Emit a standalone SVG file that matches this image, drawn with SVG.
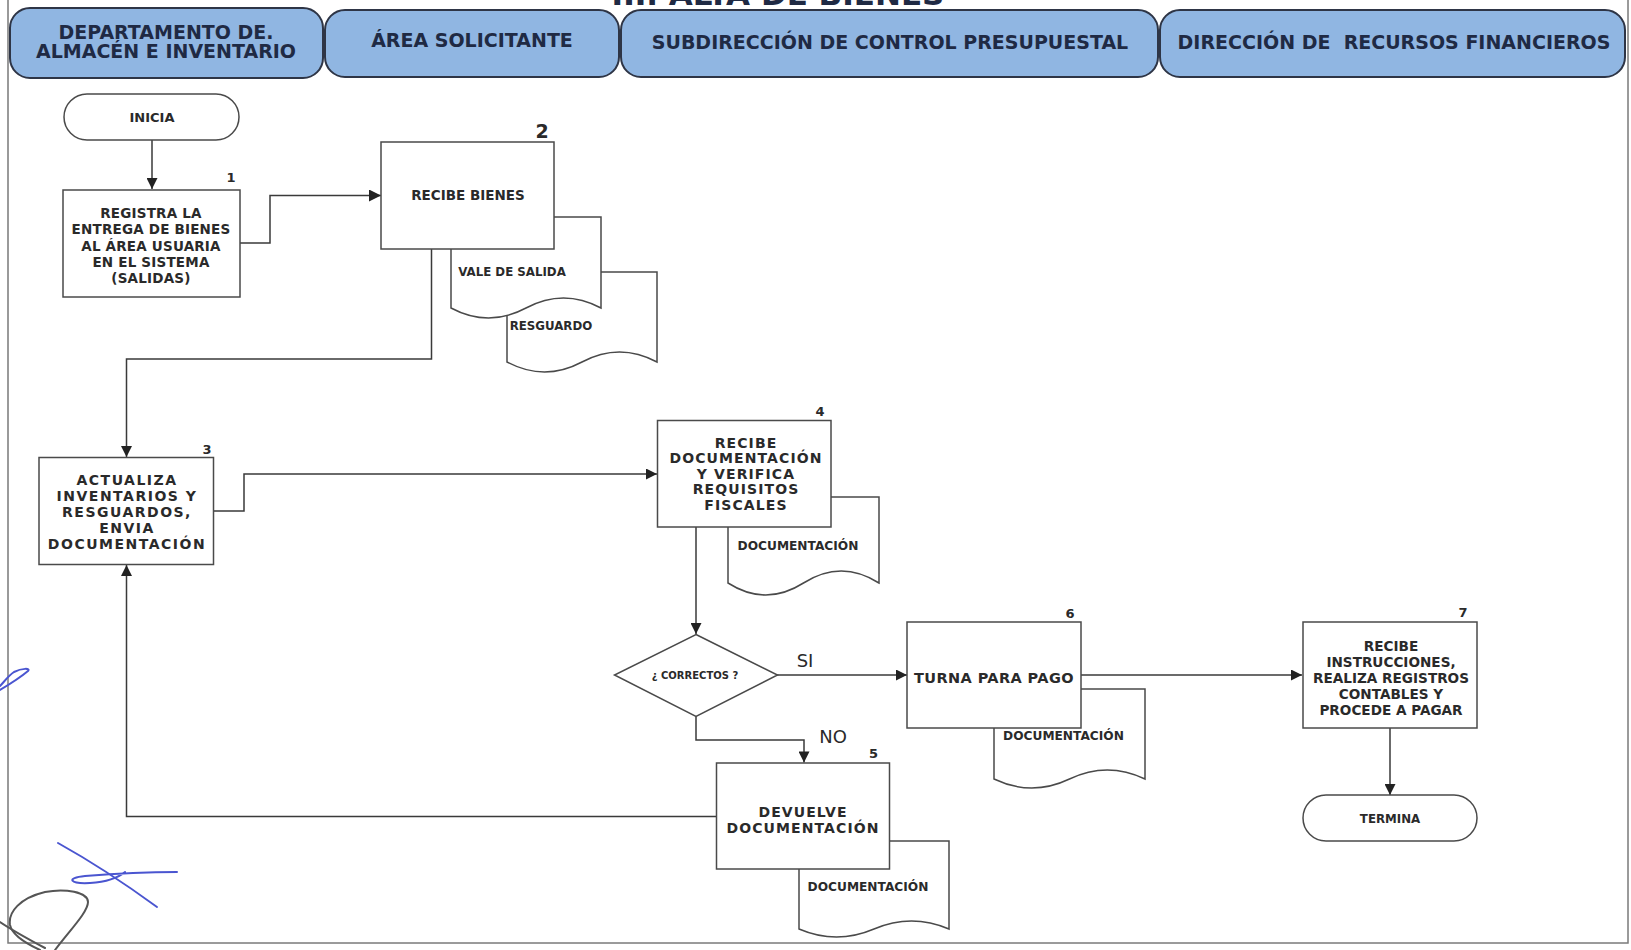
<svg xmlns="http://www.w3.org/2000/svg" width="1631" height="950" viewBox="0 0 1631 950">
<defs>
<style>
.frame{fill:none;stroke:#7a7a7a;stroke-width:1.5}
.hdr{fill:#90b6e2;stroke:#2e3546;stroke-width:2}
.ht{font-family:"DejaVu Sans","Liberation Sans",sans-serif;font-weight:bold;font-size:19px;fill:#1f2a44;text-anchor:middle;white-space:pre}
.box{fill:#fff;stroke:#4a4a4a;stroke-width:1.5}
.doc{fill:#fff;stroke:#4a4a4a;stroke-width:1.5}
.t{font-family:"DejaVu Sans","Liberation Sans",sans-serif;font-weight:bold;font-size:14px;fill:#2a2a2a;text-anchor:middle}
.w{font-size:14px;letter-spacing:1.1px}
.ww{font-size:14px;letter-spacing:1.5px}
.dt{font-family:"DejaVu Sans","Liberation Sans",sans-serif;font-weight:bold;font-size:11.8px;fill:#2a2a2a;text-anchor:middle}
.num{font-family:"DejaVu Sans","Liberation Sans",sans-serif;font-weight:bold;font-size:13px;fill:#2a2a2a;text-anchor:middle}
.lbl{font-family:"DejaVu Sans","Liberation Sans",sans-serif;font-size:18px;fill:#2a2a2a;text-anchor:middle}
.con{fill:none;stroke:#3a3a3a;stroke-width:1.5}
.scr{fill:none;stroke:#4a55d0;stroke-width:2;stroke-linecap:round}
.scrk{fill:none;stroke:#555;stroke-width:2;stroke-linecap:round}
</style>
<marker id="arr" viewBox="0 0 10 10" refX="10" refY="5" markerUnits="userSpaceOnUse" markerWidth="13" markerHeight="11" orient="auto">
<path d="M0,0 L10,5 L0,10 z" fill="#222"/>
</marker>
<marker id="arrL" viewBox="0 0 10 10" refX="10" refY="5" markerUnits="userSpaceOnUse" markerWidth="20" markerHeight="12" orient="auto">
<path d="M0,0 L10,5 L0,10 z" fill="#222"/>
</marker>
</defs>
<rect width="1631" height="950" fill="#fff"/>
<rect class="frame" x="8" y="-2" width="1620" height="945"/>
<text x="778" y="4.5" style="font-family:'DejaVu Sans',sans-serif;font-weight:bold;font-size:31px;fill:#1f2a44;text-anchor:middle">III. ALTA DE BIENES</text>

<g id="lanes">
<g id="lane1"><rect class="hdr" x="10" y="8" width="313" height="70" rx="20" ry="20"/><text class="ht" x="166" y="38.5">DEPARTAMENTO DE.</text><text class="ht" x="166" y="58">ALMACÉN E INVENTARIO</text></g>
<g id="lane2"><rect class="hdr" x="325" y="10" width="294" height="67" rx="20" ry="20"/><text class="ht" x="472" y="47">ÁREA SOLICITANTE</text></g>
<g id="lane3"><rect class="hdr" x="621" y="10" width="537" height="67" rx="20" ry="20"/><text class="ht" x="890" y="49">SUBDIRECCIÓN DE CONTROL PRESUPUESTAL</text></g>
<g id="lane4"><rect class="hdr" x="1160" y="10" width="465" height="67" rx="20" ry="20"/><text class="ht" x="1394" y="49">DIRECCIÓN DE  RECURSOS FINANCIEROS</text></g>
</g>

<g id="connectors">
<path class="con" d="M152,140 V189" marker-end="url(#arr)"/>
<path class="con" d="M240,243 H270 V195.5 H381" marker-end="url(#arrL)"/>
<path class="con" d="M431.5,249 V359 H126.5 V457" marker-end="url(#arr)"/>
<path class="con" d="M213.5,511 H244 V474 H657" marker-end="url(#arr)"/>
<path class="con" d="M696,527 V634" marker-end="url(#arr)"/>
<path class="con" d="M777,675 H907" marker-end="url(#arr)"/>
<path class="con" d="M696,716 V740 H804 V762.5" marker-end="url(#arr)"/>
<path class="con" d="M1081,675 H1302" marker-end="url(#arr)"/>
<path class="con" d="M1390,728 V795" marker-end="url(#arr)"/>
<path class="con" d="M716.5,816.5 H126.5 V565" marker-end="url(#arr)"/>
<text class="lbl" x="805" y="666.5">SI</text>
<text class="lbl" x="833" y="742.5">NO</text>
</g>

<g id="inicia"><rect class="box" x="64" y="94" width="175" height="46" rx="23" ry="23"/><text class="t" x="152" y="121.5" style="font-size:13px">INICIA</text></g>

<g id="n1"><rect class="box" x="63" y="190" width="177" height="107"/>
<text class="num" x="231" y="182">1</text>
<g class="t" style="font-size:13.5px;letter-spacing:0.2px">
<text x="151" y="218">REGISTRA LA</text>
<text x="151" y="234">ENTREGA DE BIENES</text>
<text x="151" y="250.5">AL ÁREA USUARIA</text>
<text x="151" y="266.5">EN EL SISTEMA</text>
<text x="151" y="283">(SALIDAS)</text>
</g>
</g>

<g id="doc-resguardo"><path class="doc" d="M507,272 H657 V362 Q619.5,342 582,362 T507,362 Z"/><text class="dt" x="551" y="330">RESGUARDO</text></g>
<g id="doc-vale"><path class="doc" d="M451,217 H601 V308 Q563.5,288 526,308 T451,308 Z"/><text class="dt" x="512" y="276">VALE DE SALIDA</text></g>
<g id="n2"><rect class="box" x="381" y="142" width="173" height="107"/>
<text class="num" x="542" y="138" style="font-size:19px">2</text>
<text class="t" x="468" y="200" style="font-size:13.5px">RECIBE BIENES</text>
</g>

<g id="n3"><rect class="box" x="39" y="457.5" width="174.5" height="107"/>
<text class="num" x="207" y="453.5">3</text>
<g class="t ww">
<text x="127" y="485">ACTUALIZA</text>
<text x="127" y="501">INVENTARIOS Y</text>
<text x="127" y="517">RESGUARDOS,</text>
<text x="127" y="533">ENVIA</text>
<text x="127" y="549">DOCUMENTACIÓN</text>
</g>
</g>

<g id="doc4"><path class="doc" d="M728,497 H879 V583 Q841.25,559 803.5,583 T728,583 Z"/><text class="dt" x="798" y="550" style="font-size:12.2px">DOCUMENTACIÓN</text></g>
<g id="n4"><rect class="box" x="657.5" y="420.5" width="173.5" height="106.5"/>
<text class="num" x="820" y="415.5">4</text>
<g class="t w">
<text x="746" y="447.5">RECIBE</text>
<text x="746" y="463">DOCUMENTACIÓN</text>
<text x="746" y="478.5">Y VERIFICA</text>
<text x="746" y="494">REQUISITOS</text>
<text x="746" y="509.5">FISCALES</text>
</g>
</g>

<g id="decision"><path class="box" d="M696,634.5 L777.5,675 L696,716.5 L614.5,675 Z"/><text class="t" x="695" y="678.5" style="font-size:10px">¿ CORRECTOS ?</text></g>

<g id="doc6"><path class="doc" d="M994,689 H1145 V779 Q1107.25,761 1069.5,779 T994,779 Z"/><text class="dt" x="1063.5" y="740" style="font-size:12.2px">DOCUMENTACIÓN</text></g>
<g id="n6"><rect class="box" x="907" y="622" width="174" height="106"/>
<text class="num" x="1070" y="617.5">6</text>
<text class="t" x="994" y="682.5" style="font-size:14.5px;letter-spacing:0.4px">TURNA PARA PAGO</text>
</g>

<g id="doc5"><path class="doc" d="M799,841 H949 V929 Q911.5,913 874,929 T799,929 Z"/><text class="dt" x="868" y="891" style="font-size:12.2px">DOCUMENTACIÓN</text></g>
<g id="n5"><rect class="box" x="716.5" y="763" width="173" height="106"/>
<text class="num" x="873.5" y="757.5">5</text>
<g class="t w">
<text x="803" y="817">DEVUELVE</text>
<text x="803" y="832.5">DOCUMENTACIÓN</text>
</g>
</g>

<g id="n7"><rect class="box" x="1303" y="622" width="174" height="106"/>
<text class="num" x="1463" y="616.5">7</text>
<g class="t" style="font-size:13.6px">
<text x="1391" y="651">RECIBE</text>
<text x="1391" y="667">INSTRUCCIONES,</text>
<text x="1391" y="683">REALIZA REGISTROS</text>
<text x="1391" y="699">CONTABLES Y</text>
<text x="1391" y="715">PROCEDE A PAGAR</text>
</g>
</g>

<g id="termina"><rect class="box" x="1303" y="795" width="174" height="46" rx="23" ry="23"/><text class="t" x="1390" y="823" style="font-size:11.8px">TERMINA</text></g>

<g id="annotations">
<path class="scr" d="M0,690 C10,684 22,676 28,671 C31,668 22,668 14,672 C8,676 4,682 0,686"/>
<path class="scr" d="M58,843 C85,858 120,880 157,907"/>
<path class="scr" d="M177,872 C150,872 110,874 85,876 C65,878 70,884 90,883 C105,882 118,878 125,872"/>
<path class="scrk" d="M55,950 C70,930 88,912 88,902 C88,892 65,888 45,892 C20,898 8,912 10,925 C12,935 25,943 40,950"/>
<path class="scrk" d="M0,922 C15,932 30,940 45,948"/>
</g>
</svg>
